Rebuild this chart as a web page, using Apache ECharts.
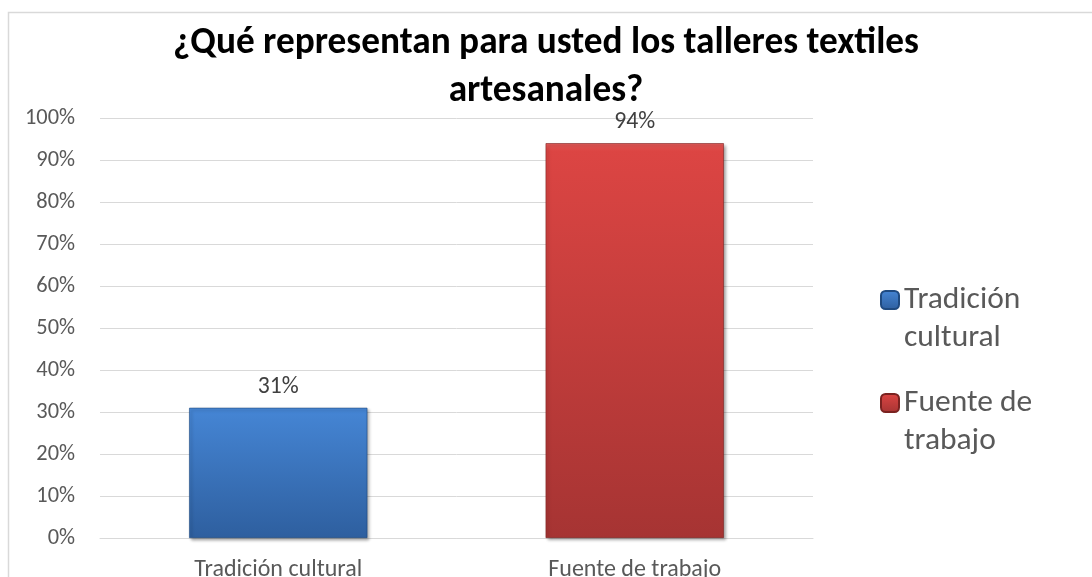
<!DOCTYPE html>
<html>
<head>
<meta charset="utf-8">
<title>¿Qué representan para usted los talleres textiles artesanales?</title>
<script src="https://cdn.jsdelivr.net/npm/echarts@6/dist/echarts.min.js"></script>
<style>
  html, body { margin: 0; padding: 0; background: #ffffff; }
  #chart { width: 1092px; height: 577px; }
</style>
</head>
<body>
<div id="chart"></div>
<script>
// Survey answers, share of respondents (%)
const categories = ['Tradición cultural', 'Fuente de trabajo'];
const values = [31, 94];
const legendLabels = ['Tradición\ncultural', 'Fuente de\ntrabajo'];
const titleLines = ['¿Qué representan para usted los talleres textiles', 'artesanales?'];

const FONT = 'Carlito, Lato, "Open Sans", sans-serif';

// Pick a font size so that a sample string spans the wanted width
const measureCtx = document.createElement('canvas').getContext('2d');
function fitSize(sample, width, weight) {
  measureCtx.font = (weight || 'normal') + ' 100px ' + FONT;
  return Math.round(100 * width / measureCtx.measureText(sample).width * 10) / 10;
}
const titleSize = fitSize(titleLines[0], 745, 'bold');
const axisSize = fitSize('Tradición cultural', 168);
const tickSize = fitSize('100%', 50);
const valueSize = fitSize('31%', 41);
const legendSize = fitSize('Fuente de', 128);

// Bevelled fills: light top fading to a darker base
const fills = [
  new echarts.graphic.LinearGradient(0, 0, 0, 1, [
    { offset: 0, color: '#4b8bd9' },
    { offset: 0.02, color: '#4585d4' },
    { offset: 1, color: '#2e5f9f' }
  ]),
  new echarts.graphic.LinearGradient(0, 0, 0, 1, [
    { offset: 0, color: '#e25a58' },
    { offset: 0.02, color: '#dc4543' },
    { offset: 1, color: '#a63433' }
  ])
];

// One series per answer so each gets its own legend entry
const series = categories.map((name, i) => ({
  name: name,
  type: 'bar',
  barWidth: '50%',
  barGap: '-100%',
  data: values.map((v, j) => (j === i ? v : '-')),
  itemStyle: {
    color: fills[i],
    borderColor: i === 0 ? '#1f4a80' : '#7a2220',
    borderWidth: 0.6,
    shadowColor: 'rgba(0,0,0,0.35)',
    shadowBlur: 3,
    shadowOffsetX: 2,
    shadowOffsetY: 2
  },
  label: {
    show: true,
    position: 'top',
    distance: 9,
    formatter: '{c}%',
    color: '#404040',
    fontFamily: FONT,
    fontSize: valueSize
  }
}));

// Legend entries; a leading blank line puts the icon level with the first text line
const legendTops = [243, 346];
const legends = categories.map((name, i) => ({
  data: [name],
  orient: 'vertical',
  left: 880,
  top: legendTops[i],
  padding: 0,
  itemWidth: 18,
  itemHeight: 18,
  itemGap: 0,
  selectedMode: false,
  formatter: () => '\n' + legendLabels[i],
  textStyle: {
    color: '#595959',
    fontFamily: FONT,
    fontSize: legendSize,
    lineHeight: 38
  }
}));

const chart = echarts.init(document.getElementById('chart'), null, { renderer: 'canvas' });
chart.setOption({
  backgroundColor: '#ffffff',
  animation: false,
  title: {
    text: titleLines.join('\n'),
    left: 'center',
    top: 15,
    textStyle: {
      color: '#000000',
      fontFamily: FONT,
      fontWeight: 'bold',
      fontSize: titleSize,
      lineHeight: 48
    }
  },
  graphic: [{
    type: 'rect',
    shape: { x: 8.5, y: 12.5, width: 1100, height: 600 },
    style: { fill: 'none', stroke: '#d9d9d9', lineWidth: 1.5 },
    silent: true,
    z: -10
  }],
  legend: legends,
  // fixed plot box; labels may run past the bottom edge
  grid: { left: 100, right: 279, top: 118, bottom: 39, containLabel: false, outerBoundsMode: 'none' },
  xAxis: {
    type: 'category',
    data: categories,
    axisLine: { show: true, lineStyle: { color: '#d9d9d9', width: 1 } },
    axisTick: { show: false },
    axisLabel: {
      color: '#595959',
      fontFamily: FONT,
      fontSize: axisSize,
      margin: 20
    }
  },
  yAxis: {
    type: 'value',
    min: 0,
    max: 100,
    interval: 10,
    axisLine: { show: false },
    axisTick: { show: false },
    splitLine: { lineStyle: { color: '#d9d9d9', width: 1 } },
    axisLabel: {
      formatter: '{value}%',
      color: '#595959',
      fontFamily: FONT,
      fontSize: tickSize,
      margin: 25
    }
  },
  series: series
});
</script>
</body>
</html>
